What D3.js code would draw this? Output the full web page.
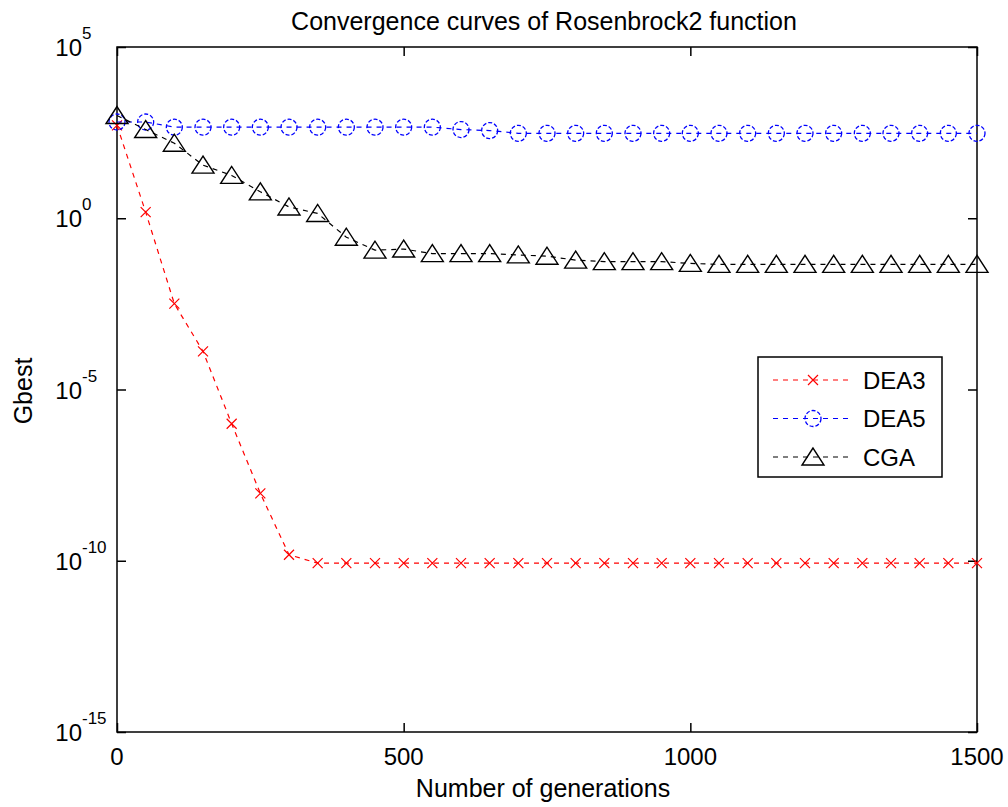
<!DOCTYPE html>
<html>
<head>
<meta charset="utf-8">
<script src="https://cdn.jsdelivr.net/npm/d3@7/dist/d3.min.js"></script>
<style>
  html, body { margin: 0; padding: 0; background: #fff; }
  svg { display: block; }
  text { font-family: "Liberation Sans", Arial, sans-serif; fill: #000; }
</style>
</head>
<body>
<svg id="chart" width="1008" height="807"></svg>
<script>
// Generation numbers where the best fitness was recorded
const generations = [0, 50, 100, 150, 200, 250, 300, 350, 400, 450, 500, 550, 600, 650, 700, 750,
  800, 850, 900, 950, 1000, 1050, 1100, 1150, 1200, 1250, 1300, 1350, 1400, 1450, 1500];

// Best fitness (Gbest) per algorithm
const dea3 = [513, 1.51, 3.2e-3, 1.3e-4, 1.0e-6, 9.3e-9, 1.5e-10, 8.5e-11, 8.5e-11, 8.5e-11, 8.5e-11,
  8.5e-11, 8.5e-11, 8.5e-11, 8.5e-11, 8.5e-11, 8.5e-11, 8.5e-11, 8.5e-11, 8.5e-11, 8.5e-11,
  8.5e-11, 8.5e-11, 8.5e-11, 8.5e-11, 8.5e-11, 8.5e-11, 8.5e-11, 8.5e-11, 8.5e-11, 8.5e-11];
const dea5 = [646, 646, 457, 457, 457, 457, 457, 457, 457, 457, 457, 457, 389, 363, 302, 302,
  302, 302, 302, 302, 302, 302, 302, 302, 302, 302, 302, 302, 302, 302, 302];
const cga = [1000, 389, 155, 35.5, 17.8, 5.9, 2.14, 1.38, 0.28, 0.117, 0.126, 0.093, 0.093, 0.093,
  0.085, 0.078, 0.060, 0.054, 0.054, 0.054, 0.048, 0.045, 0.045, 0.045, 0.045, 0.045, 0.045,
  0.045, 0.045, 0.045, 0.045];

const seriesNames = ["DEA3", "DEA5", "CGA"];
const seriesColors = ["#ff0000", "#0000ff", "#000000"];
const seriesMarkers = ["x", "circle", "triangle"];

const xTicks = [0, 500, 1000, 1500];
const yExponents = [5, 0, -5, -10, -15];

const titleText = "Convergence curves of Rosenbrock2 function";
const xLabel = "Number of generations";
const yLabel = "Gbest";

const svg = d3.select("#chart");
const plot = { left: 117, right: 977, top: 47, bottom: 732 };

const x = d3.scaleLinear().domain([0, 1500]).range([plot.left, plot.right]);
const y = d3.scaleLog().domain([1e-15, 1e5]).range([plot.bottom, plot.top]);

const tickLen = 9;

// Axes with inward ticks on all four sides (boxed axes)
svg.append("g").attr("transform", `translate(0,${plot.bottom})`)
  .call(d3.axisBottom(x).tickValues(xTicks).tickSize(-tickLen).tickFormat(""));
svg.append("g").attr("transform", `translate(0,${plot.top})`)
  .call(d3.axisTop(x).tickValues(xTicks).tickSize(-tickLen).tickFormat(""));
svg.append("g").attr("transform", `translate(${plot.left},0)`)
  .call(d3.axisLeft(y).tickValues(yExponents.map(e => Math.pow(10, e))).tickSize(-tickLen).tickFormat(""));
svg.append("g").attr("transform", `translate(${plot.right},0)`)
  .call(d3.axisRight(y).tickValues(yExponents.map(e => Math.pow(10, e))).tickSize(-tickLen).tickFormat(""));

svg.selectAll(".domain").remove();
svg.selectAll(".tick line").attr("stroke", "#000").attr("stroke-width", 1.5);

svg.append("rect")
  .attr("x", plot.left).attr("y", plot.top)
  .attr("width", plot.right - plot.left).attr("height", plot.bottom - plot.top)
  .attr("fill", "none").attr("stroke", "#000").attr("stroke-width", 1.5);

// X tick labels
svg.append("g").selectAll("text").data(xTicks).join("text")
  .attr("x", d => x(d)).attr("y", 765)
  .attr("text-anchor", "middle").attr("font-size", 24)
  .text(d => d);

// Y tick labels as powers of ten
const yl = svg.append("g").selectAll("g").data(yExponents).join("g")
  .attr("transform", d => `translate(82,${y(Math.pow(10, d))})`);
yl.append("text").attr("x", 0).attr("y", 9).attr("text-anchor", "end")
  .attr("font-size", 24).text("10");
yl.append("text").attr("x", 0).attr("y", -8).attr("text-anchor", "start")
  .attr("font-size", 17).text(d => d);

// Titles
svg.append("text").attr("x", 544).attr("y", 30).attr("text-anchor", "middle")
  .attr("font-size", 25).text(titleText);
svg.append("text").attr("x", 543).attr("y", 797).attr("text-anchor", "middle")
  .attr("font-size", 25).text(xLabel);
svg.append("text").attr("transform", "translate(32,391) rotate(-90)")
  .attr("text-anchor", "middle").attr("font-size", 25).text(yLabel);

// Marker drawing helper
function drawMarker(sel, kind, color) {
  if (kind === "x") {
    sel.append("path").attr("d", "M-5,-5L5,5M-5,5L5,-5")
      .attr("stroke", color).attr("stroke-width", 1.2).attr("fill", "none");
  } else if (kind === "circle") {
    sel.append("circle").attr("r", 8)
      .attr("stroke", color).attr("stroke-width", 1.3).attr("fill", "none")
      .attr("stroke-dasharray", "4,2");
  } else {
    sel.append("path").attr("d", "M0,-9L-11,8L11,8Z")
      .attr("stroke", color).attr("stroke-width", 1.4).attr("fill", "none");
  }
}

const allSeries = [dea3, dea5, cga];
const line = d3.line().x(d => x(d[0])).y(d => y(d[1]));

allSeries.forEach((vals, i) => {
  const pts = generations.map((g, j) => [g, vals[j]]);
  const g = svg.append("g");
  g.append("path").datum(pts).attr("d", line)
    .attr("fill", "none").attr("stroke", seriesColors[i])
    .attr("stroke-width", 1.2).attr("stroke-dasharray", "5,5");
  g.selectAll("g.m").data(pts).join("g").attr("class", "m")
    .attr("transform", d => `translate(${x(d[0])},${y(d[1])})`)
    .each(function () { drawMarker(d3.select(this), seriesMarkers[i], seriesColors[i]); });
});

// Legend
const lg = svg.append("g");
lg.append("rect").attr("x", 758).attr("y", 357).attr("width", 184).attr("height", 120)
  .attr("fill", "#fff").attr("stroke", "#000").attr("stroke-width", 1.5);
seriesNames.forEach((name, i) => {
  const cy = 380 + i * 38.5;
  lg.append("line").attr("x1", 773).attr("x2", 852).attr("y1", cy).attr("y2", cy)
    .attr("stroke", seriesColors[i]).attr("stroke-width", 1.2).attr("stroke-dasharray", "5,5");
  const m = lg.append("g").attr("transform", `translate(813,${cy})`);
  drawMarker(m, seriesMarkers[i], seriesColors[i]);
  lg.append("text").attr("x", 863).attr("y", cy + 8.5).attr("font-size", 24).text(name);
});
</script>
</body>
</html>
